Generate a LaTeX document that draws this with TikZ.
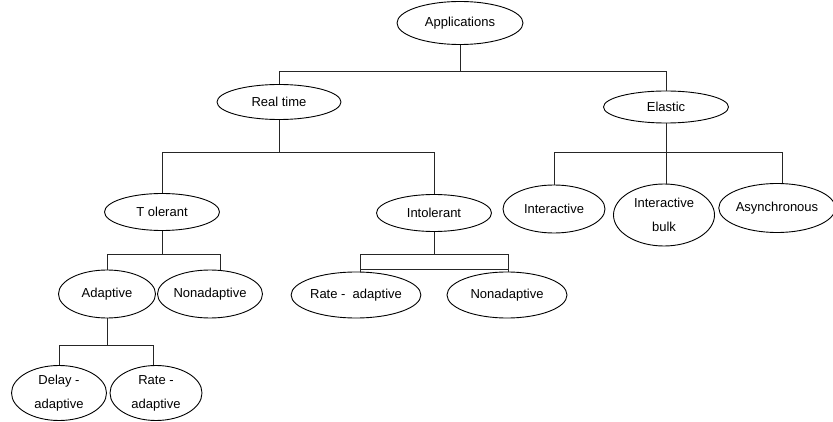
\documentclass[tikz,border=0pt]{standalone}
\usepackage{fontspec}
\setmainfont{Liberation Sans}
\usetikzlibrary{shapes.geometric,calc}
\begin{document}
\begin{tikzpicture}[x=1pt,y=-1pt,
  oval/.style={ellipse,draw=black,line width=0.9pt,inner sep=0pt,align=center,
    font=\fontsize{13}{24}\selectfont},
  link/.style={draw=black!85,line width=1pt}]
\useasboundingbox (0,0) rectangle (833,422);
% nodes
\node[oval,minimum width=126,minimum height=43] (app) at (460,23) {Applications};
\node[oval,minimum width=124,minimum height=35] (rt) at (279,102) {Real time};
\node[oval,minimum width=125,minimum height=32] (el) at (666,107) {Elastic};
\node[oval,minimum width=115,minimum height=37] (tol) at (162,212) {T olerant};
\node[oval,minimum width=115,minimum height=37] (intol) at (434,213) {Intolerant};
\node[oval,minimum width=97,minimum height=48] (adap) at (107,294) {Adaptive};
\node[oval,minimum width=105,minimum height=48] (nonadA) at (210,294) {Nonadaptive};
\node[oval,minimum width=95,minimum height=55] (delay) at (59,393) {Delay -\\adaptive};
\node[oval,minimum width=92,minimum height=55] (rateA) at (156,393) {Rate -\\adaptive};
\node[oval,minimum width=118,minimum height=46] (rateB) at (356,295) {Rate - \ adaptive};
\node[oval,minimum width=120,minimum height=46] (nonadB) at (507,295) {Nonadaptive};
\node[oval,minimum width=102,minimum height=48] (inter) at (554,209) {Interactive};
\node[oval,minimum width=101,minimum height=62] (bulk) at (664,215) {Interactive\\bulk};
\node[oval,minimum width=114,minimum height=49] (async) at (777,208) {Asynchronous};
% bus coordinates
\coordinate (b1) at (0,72);
\coordinate (b2) at (0,153);
\coordinate (b3) at (0,255);
\coordinate (b3b) at (0,270);
\coordinate (b4) at (0,345);
% level 1
\draw[link] (app.south) -- (app.south |- b1);
\draw[link] (rt.north) -- (rt.north |- b1) -- (el.north |- b1) -- (el.north);
% real time
\draw[link] (rt.south) -- (rt.south |- b2);
\draw[link] (tol.north) -- (tol.north |- b2) -- (intol.north |- b2) -- (intol.north);
% elastic
\draw[link] (el.south) -- (el.south |- b2);
\draw[link] (inter.north) -- (inter.north |- b2) -- ($(async.north |- b2)+(5,0)$) -- ($(async.north)+(5,0)$);
\draw[link] ($(bulk.north)+(2,0)$) -- ($(bulk.north |- b2)+(2,0)$);
% tolerant
\draw[link] (tol.south) -- (tol.south |- b3);
\draw[link] (adap.north) -- (adap.north |- b3) -- ($(nonadA.north |- b3)+(10,0)$) -- ($(nonadA.north)+(10,0)$);
% adaptive
\draw[link] (adap.south) -- (adap.south |- b4);
\draw[link] (delay.north) -- (delay.north |- b4) -- ($(rateA.north |- b4)+(-3,0)$) -- ($(rateA.north)+(-3,0)$);
% intolerant
\draw[link] (intol.south) -- (intol.south |- b3);
\draw[link] ($(rateB.north)+(4,0)$) -- ($(rateB.north |- b3)+(4,0)$) -- ($(nonadB.north |- b3)+(1,0)$) -- ($(nonadB.north)+(1,0)$);
\draw[link] ($(rateB.north |- b3b)+(4,0)$) -- ($(nonadB.north |- b3b)+(1,0)$);
\end{tikzpicture}
\end{document}
